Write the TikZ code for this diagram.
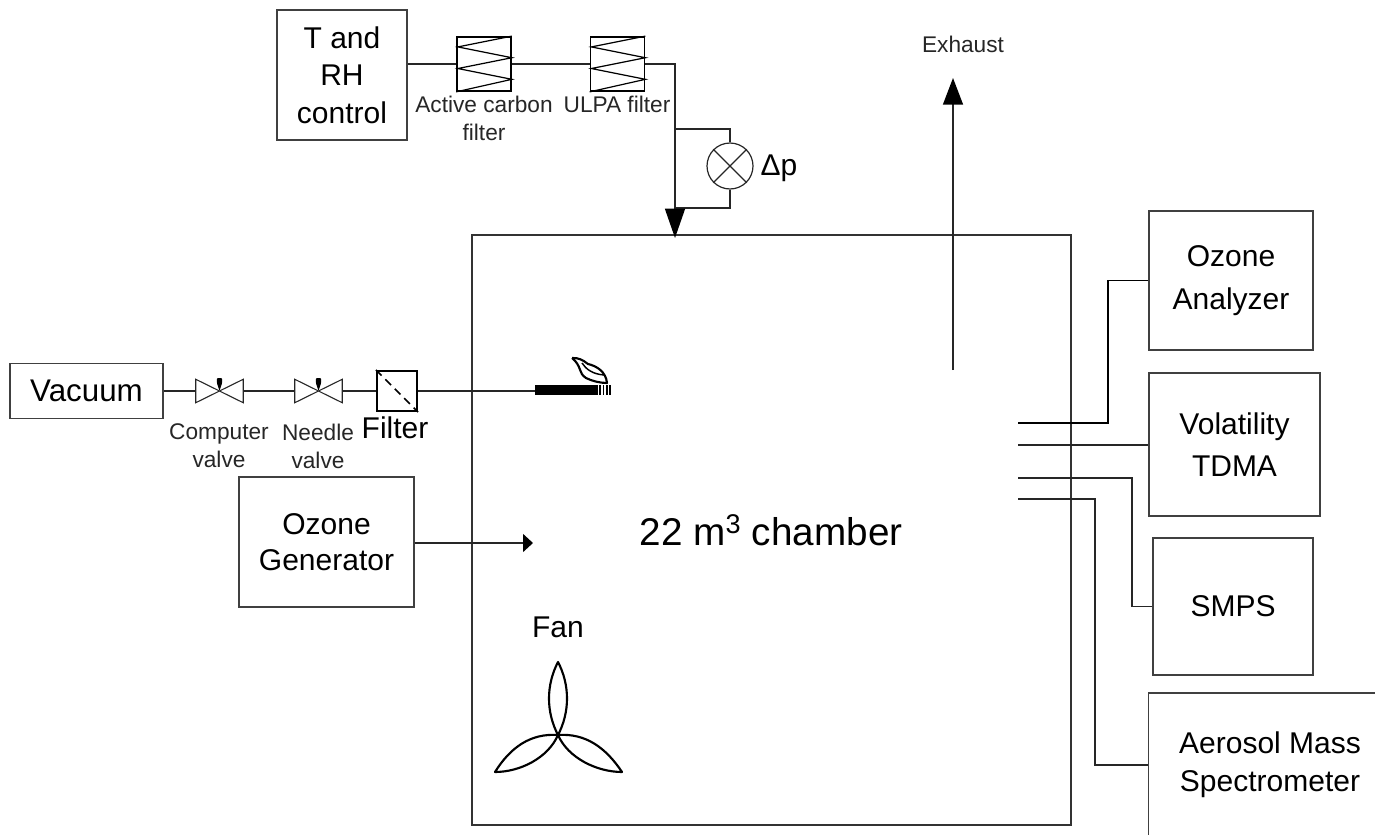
\documentclass[tikz,border=0pt]{standalone}
\usepackage{fontspec}
\setmainfont{Liberation Sans}
\usetikzlibrary{arrows.meta,shapes.misc}
\tikzset{
  ln/.style={draw=black!85,line width=1.1pt},
  box/.style={draw=black!75,line width=1.2pt,inner sep=0pt,align=center,font=\fontsize{22.5}{32}\selectfont},
  lab/.style={inner sep=0pt,align=center,text=black!85,font=\fontsize{17}{21}\selectfont},
  biglab/.style={inner sep=0pt,align=center,font=\fontsize{22.5}{28.5}\selectfont},
  filt/.style={draw=black,line width=1.3pt,inner sep=0pt,minimum size=40.5pt},
  valve/.style={inner sep=0pt,minimum width=35.25pt,minimum height=17.25pt},
  bow/.style={draw=black!85,line width=.8pt},
}
\newcommand{\coilsym}[1]{%
  \draw[line width=.9pt] (#1.north east) -- ++(-54,10.8) -- ++(54,10.8) -- ++(-54,10.8) -- ++(54,10.8) -- (#1.south west);}
\newcommand{\valvesym}[1]{%
  \draw[bow] (#1.north west) -- (#1.south east) -- (#1.north east) -- (#1.south west) -- cycle;
  \fill[black,rounded corners=.8pt] (#1.center) -- ++(-2.6,-8) -- ++(0,-5) -- ++(5.2,0) -- ++(0,5) -- cycle;}
\begin{document}
\begin{tikzpicture}[x=0.75pt,y=-0.75pt]
\useasboundingbox (0,0) rectangle (1375,835);
\clip (0,0) rectangle (1375,835);
% boxes
\node[box,minimum width=97.5pt,minimum height=97.5pt,font=\fontsize{22.5}{28}\selectfont] (trh) at (342,75) {T and\\RH\\control};
\node[filt] (acf) at (484,64) {};
\node[filt] (ulpa) at (617.5,64) {};
\node[draw=black!80,line width=1.2pt,minimum width=449pt,minimum height=442.5pt,inner sep=0pt] (chamber) at (771.5,530) {};
\node[circle,draw=black!85,line width=.9pt,minimum size=34.5pt,inner sep=0pt] (dp) at (730,166) {};
\draw[black!85,line width=.9pt] (dp.north east) -- (dp.south west) (dp.north west) -- (dp.south east);
\node[biglab] (dpl) at (779,168) {Δp};
\node[lab] (acfl) at (484,118) {Active carbon\\filter};
\node[lab] (ulpal) at (617,104) {ULPA filter};
\node[lab] (exl) at (963,44) {Exhaust};
\node[box,minimum width=123pt,minimum height=104pt] (oa) at (1231,280.5) {Ozone\\Analyzer};
\node[box,minimum width=128pt,minimum height=107pt] (tdma) at (1234.5,444.5) {Volatility\\TDMA};
\node[box,minimum width=120pt,minimum height=103pt] (smps) at (1233,606.5) {SMPS};
\node[box,minimum width=200pt,minimum height=108pt] (ams) at (1282,765) {};
\node[biglab] (amsl) at (1270,765) {Aerosol Mass\\Spectrometer};
\node[box,minimum width=115pt,minimum height=41pt,font=\fontsize{23.5}{30}\selectfont] (vac) at (86.5,391) {Vacuum};
\node[valve] (v1) at (219.5,391) {};
\node[valve] (v2) at (318.5,391) {};
\node[draw=black,line width=1.6pt,minimum size=30pt,inner sep=0pt] (flt) at (397,391) {};
\draw[line width=1.2pt,dash pattern=on 6pt off 4pt] (flt.north west) -- (flt.south east);
\node[biglab] (fltl) at (395,428) {Filter};
\node[lab] (v1l) at (219,446) {Computer\\valve};
\node[lab] (v2l) at (318,446) {Needle\\valve};
\node[box,minimum width=131pt,minimum height=97.5pt,font=\fontsize{22.5}{27}\selectfont] (og) at (326.5,542) {Ozone\\Generator};
\node[biglab,font=\fontsize{29}{34}\selectfont] (chl) at (771,530) {22 m\textsuperscript{3} chamber};
\node[biglab] (fanl) at (558,627) {Fan};
% symbols
\valvesym{v1}
\valvesym{v2}
\coilsym{acf}
\coilsym{ulpa}
% connectors
\coordinate (j2) at (675,129);
\coordinate (j3) at (675,208);
\coordinate (top) at (675,238);
\draw[ln] (trh.east |- acf.west) -- (acf.west);
\draw[ln] (acf.east) -- (ulpa.west);
\draw[ln] (ulpa.east) -| (j3);
\draw[ln] (j2) -| (dp.north);
\draw[ln] (dp.south) |- (j3);
\draw[ln,-{Triangle[length=22pt,width=15pt,black]}] (j3) -- (top);
\coordinate (exs) at (953,370);
\coordinate (ext) at (953,78);
\draw[ln,-{Triangle[length=20pt,width=15pt,black]}] (exs) -- (ext);
\coordinate (a1) at (1018,423);
\coordinate (b1) at (1108,423);
\coordinate (a2) at (1018,445);
\coordinate (a3) at (1018,478);
\coordinate (b3) at (1132,478);
\coordinate (a4) at (1018,499);
\coordinate (b4) at (1095,499);
\draw[ln,draw=black] (a1) -- (b1) |- (oa.west);
\draw[ln] (a2) -- (a2 -| tdma.west);
\draw[ln] (a3) -- (b3) |- (smps.west);
\draw[ln] (a4) -- (b4) |- (ams.west);
\draw[ln] (vac.east) -- (v1.west);
\draw[ln] (v1.east) -- (v2.west);
\draw[ln] (v2.east) -- (flt.west);
\coordinate (cig) at (535,391);
\draw[ln] (flt.east) -- (cig);
\coordinate (oge) at (533,543);
\draw[ln,-{Triangle[length=7.5pt,width=13.5pt,black]}] (og.east |- oge) -- (oge);
% cigarette
\fill[black] (535,385) rectangle (598,394.5);
\foreach \x in {600,603.5,607,610}{\draw[line width=.9pt] (\x,385) -- (\x,394.5);}
\draw[line width=1.6pt,line join=round]
 (572,358) .. controls (578,357.5) and (583,360) .. (588,364)
 .. controls (597,366) and (606,372) .. (607,383)
 .. controls (600,383) and (592,381) .. (586,378)
 .. controls (578,373) and (582,366) .. (572,358);
\draw[line width=1.1pt] (582,363) .. controls (586,369) and (592,374) .. (604,375);
% fan
\coordinate (hub) at (558,735);
\coordinate (bt) at (558,662);
\coordinate (bl) at (495,772);
\coordinate (br) at (622,772);
\draw[line width=1.6pt,line join=round]
 (hub) .. controls (546,712) and (546,685) .. (bt) .. controls (570,685) and (570,712) .. (hub)
 (hub) .. controls (530,733) and (510,748) .. (bl) .. controls (520,772) and (548,758) .. (hub)
 (hub) .. controls (568,758) and (597,772) .. (br) .. controls (606,748) and (586,733) .. (hub);
\end{tikzpicture}
\end{document}
